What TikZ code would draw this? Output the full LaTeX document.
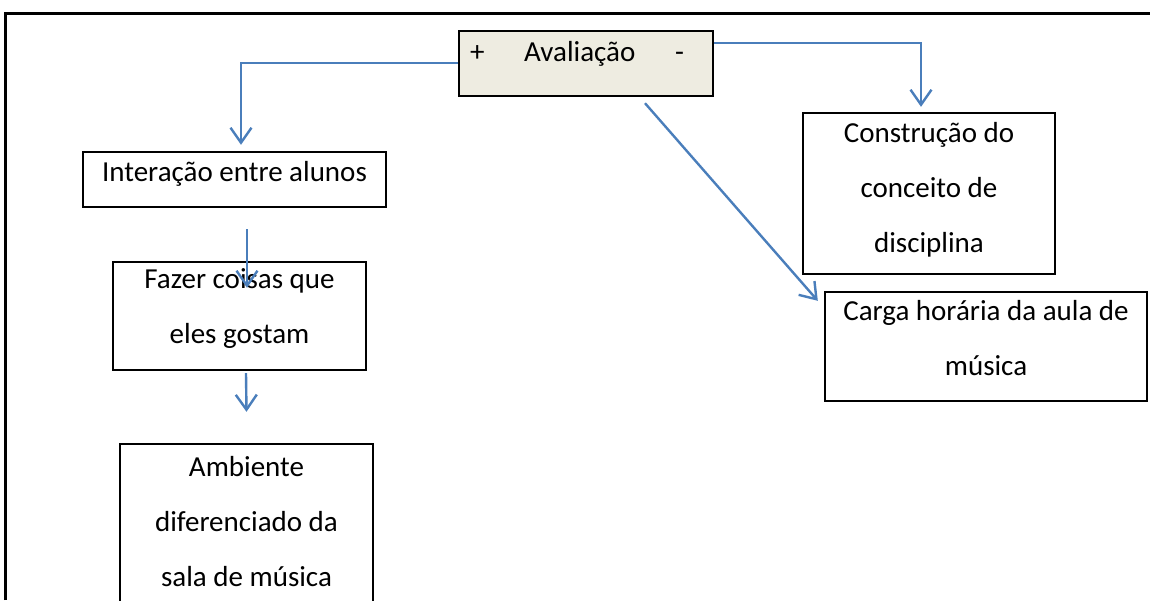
\documentclass[tikz,border=0pt]{standalone}
\usepackage{fontspec}
\setmainfont{Carlito}
\usetikzlibrary{arrows.meta}
\definecolor{setaazul}{HTML}{4A7EBB}
\definecolor{fundoaval}{HTML}{EEECE1}

\begin{document}
\begin{tikzpicture}[x=1pt,y=-1pt,
  caixa/.style={draw,line width=2.4pt,rectangle,inner sep=0pt,align=center,
    font=\fontsize{29pt}{55pt}\selectfont},
  seta/.style={draw=setaazul,line width=2.4pt,
    -{Straight Barb[length=15pt,width=21pt]}}]
  \useasboundingbox (0,0) rectangle (1150,600);
  \clip (0,0) rectangle (1150,600);
  %outer frame
  \draw[line width=3pt] (5,600) -- (5,13) -- (1152,13);

  %central box
  \node[caixa,fill=fundoaval,inner xsep=11pt,minimum width=254pt,
    text height=30pt,text depth=35pt] (aval) at (586,63.5)
    {\makebox[232pt]{+\hfill Avalia\c{c}\~ao\hfill -\hspace*{18pt}}};

  %left column
  \node[caixa,minimum width=303pt,text height=29pt,text depth=26pt] (inter)
    at (234.5,179.5) {Interação entre alunos};
  \node[caixa,minimum width=253pt,text height=81pt,text depth=27pt] (fazer)
    at (239.5,316) {Fazer coisas que\\eles gostam};
  \node[caixa,minimum width=253pt,text height=142pt,text depth=22pt] (amb)
    at (246.5,526) {Ambiente\\diferenciado da\\sala de música};

  %right column
  \node[caixa,minimum width=252pt,text height=139pt,text depth=22pt] (cons)
    at (929,193.5) {Construção do\\conceito de\\disciplina};
  \node[caixa,minimum width=322pt,text height=83pt,text depth=26pt] (carga)
    at (986,346.5) {Carga horária da aula de\\música};

  %connectors
  \draw[seta] ([yshift=0.5pt]aval.west) -| ([xshift=6.5pt,yshift=6pt]inter.north);
  \draw[seta] ([yshift=-13pt]aval.north east) -| ([xshift=-8pt,yshift=5pt]cons.north);
  \draw[seta] ([xshift=59pt,yshift=-6pt]aval.south)
    -- ([xshift=-6pt,yshift=-10pt]carga.north west);
  \draw[seta] ([xshift=12.5pt,yshift=-21pt]inter.south)
    -- ([xshift=7.5pt,yshift=-27pt]fazer.north);
  \draw[seta] ([xshift=6.5pt,yshift=-2pt]fazer.south)
    -- ([yshift=31pt]amb.north);
\end{tikzpicture}
\end{document}
